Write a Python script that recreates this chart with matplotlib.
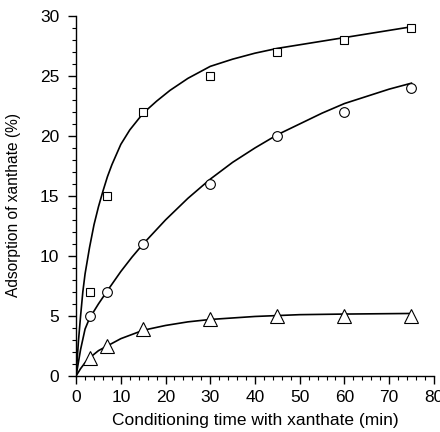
import matplotlib
matplotlib.use("Agg")
import matplotlib.pyplot as plt
from matplotlib.ticker import MultipleLocator

plt.rcParams['font.family'] = ['Liberation Sans', 'DejaVu Sans']

# measured points
t_meas = [3, 7, 15, 30, 45, 60, 75]
sq_meas = [7, 15, 22, 25, 27, 28, 29]
ci_meas = [5, 7, 11, 16, 20, 22, 24]
tr_meas = [1.5, 2.5, 3.9, 4.7, 5.0, 5.0, 5.0]

# fitted curves
sq_t = [0, 0.5, 1, 1.5, 2, 3, 4, 5, 6, 7, 8, 10, 12, 15, 18, 21, 25, 30, 35, 40, 45, 50, 55, 60, 65, 70, 75]
sq_y = [0, 2.8, 5.0, 7.0, 8.5, 10.7, 12.6, 14.1, 15.4, 16.6, 17.6, 19.3, 20.5, 21.9, 22.9, 23.8, 24.8,
        25.8, 26.4, 26.9, 27.3, 27.6, 27.9, 28.2, 28.5, 28.8, 29.1]
ci_t = [0, 1, 2, 3, 4, 5, 7, 10, 12.5, 15, 20, 25, 30, 35, 40, 45, 50, 55, 60, 65, 70, 75]
ci_y = [0, 2.2, 3.9, 4.8, 5.4, 6.0, 7.1, 8.7, 9.9, 11.0, 13.0, 14.8, 16.4, 17.8, 19.0, 20.1, 21.0,
        21.9, 22.7, 23.3, 23.9, 24.4]
tr_t = [0, 1, 2, 3, 5, 7, 10, 15, 20, 25, 30, 40, 50, 60, 75]
tr_y = [0, 0.6, 1.1, 1.5, 2.1, 2.5, 3.1, 3.8, 4.2, 4.5, 4.7, 4.95, 5.1, 5.15, 5.2]

fig = plt.figure(figsize=(4.4, 4.32), dpi=100)
ax = fig.add_axes([0.173, 0.130, 0.813, 0.833])

ax.plot(sq_t, sq_y, color='black', lw=1.2)
ax.plot(ci_t, ci_y, color='black', lw=1.2)
ax.plot(tr_t, tr_y, color='black', lw=1.2)

ax.plot(t_meas, sq_meas, ls='none', marker='s', ms=5.5, mfc='white', mec='black', mew=0.8)
ax.plot(t_meas, ci_meas, ls='none', marker='o', ms=7, mfc='white', mec='black', mew=0.8)
ax.plot(t_meas, tr_meas, ls='none', marker='^', ms=9.5, mfc='white', mec='black', mew=0.8)

ax.set_xlim(0, 80)
ax.set_ylim(0, 30)
ax.xaxis.set_major_locator(MultipleLocator(10))
ax.xaxis.set_minor_locator(MultipleLocator(2))
ax.yaxis.set_major_locator(MultipleLocator(5))
ax.yaxis.set_minor_locator(MultipleLocator(1))
ax.spines['top'].set_visible(False)
ax.spines['right'].set_visible(False)
ax.spines['left'].set_linewidth(1.0)
ax.spines['bottom'].set_linewidth(1.0)
ax.tick_params(which='major', direction='out', length=6, width=1.0, labelsize=12.5, pad=4)
ax.tick_params(axis='y', which='major', pad=6)
ax.tick_params(which='minor', direction='out', length=3, width=0.8)

ax.set_xlabel('Conditioning time with xanthate (min)', fontsize=12.5, labelpad=6)
ax.set_ylabel('Adsorption of xanthate (%)', fontsize=11.2)
ax.yaxis.set_label_coords(-0.154, 0.475)

fig.savefig('out.png', dpi=100)
